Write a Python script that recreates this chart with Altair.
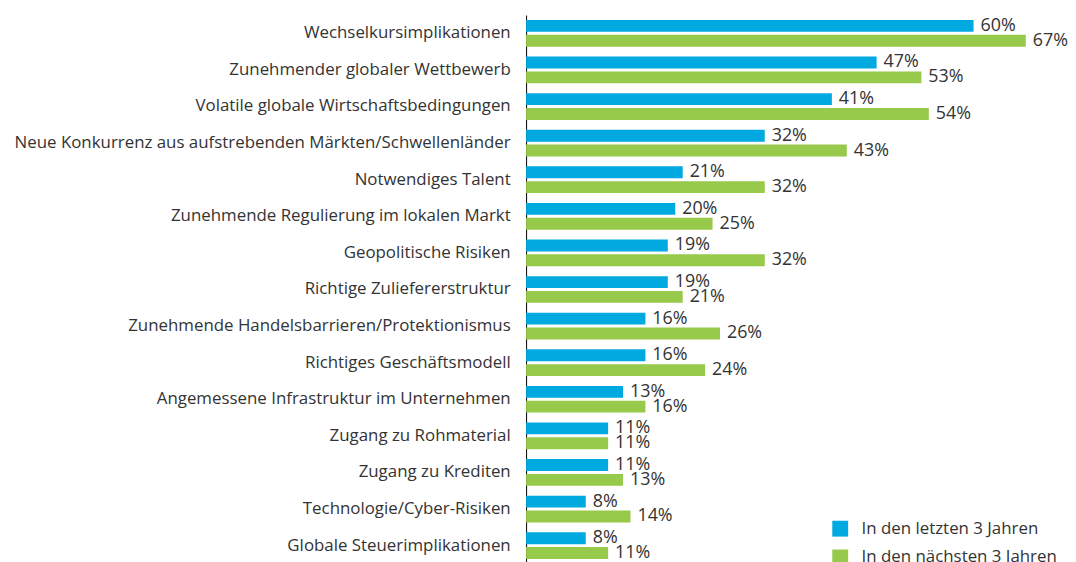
import altair as alt
import pandas as pd

categories = [
    "Wechselkursimplikationen",
    "Zunehmender globaler Wettbewerb",
    "Volatile globale Wirtschaftsbedingungen",
    "Neue Konkurrenz aus aufstrebenden Märkten/Schwellenländer",
    "Notwendiges Talent",
    "Zunehmende Regulierung im lokalen Markt",
    "Geopolitische Risiken",
    "Richtige Zuliefererstruktur",
    "Zunehmende Handelsbarrieren/Protektionismus",
    "Richtiges Geschäftsmodell",
    "Angemessene Infrastruktur im Unternehmen",
    "Zugang zu Rohmaterial",
    "Zugang zu Krediten",
    "Technologie/Cyber-Risiken",
    "Globale Steuerimplikationen",
]
series_names = ["In den letzten 3 Jahren", "In den nächsten 3 Jahren"]
past_values = [60, 47, 41, 32, 21, 20, 19, 19, 16, 16, 13, 11, 11, 8, 8]
next_values = [67, 53, 54, 43, 32, 25, 32, 21, 26, 24, 16, 11, 13, 14, 11]
colors = ["#00A9E0", "#97C94A"]

rows = []
for c, p, n in zip(categories, past_values, next_values):
    rows.append({"cat": c, "series": series_names[0], "value": p})
    rows.append({"cat": c, "series": series_names[1], "value": n})
df = pd.DataFrame(rows)

FONT = "Open Sans"
TXT = "#333333"

base = alt.Chart(df).encode(
    y=alt.Y(
        "cat:N",
        sort=categories,
        scale=alt.Scale(paddingInner=0.27, paddingOuter=0.135),
        axis=alt.Axis(
            title=None,
            ticks=False,
            domainColor="#000000",
            domainWidth=1,
            labelFontSize=17,
            labelFont=FONT,
            labelColor=TXT,
            labelPadding=16,
            labelLimit=700,
        ),
    ),
    yOffset=alt.YOffset(
        "series:N",
        sort=series_names,
        scale=alt.Scale(paddingInner=0.2, paddingOuter=0),
    ),
    x=alt.X("value:Q", scale=alt.Scale(domain=[0, 70], nice=False), axis=None),
)

bars = base.mark_bar().encode(
    color=alt.Color(
        "series:N",
        sort=series_names,
        scale=alt.Scale(domain=series_names, range=colors),
        legend=alt.Legend(
            title=None,
            orient="none",
            legendX=308,
            legendY=509,
            symbolType="square",
            symbolSize=256,
            symbolStrokeWidth=0,
            labelFontSize=17,
            labelFont=FONT,
            labelColor=TXT,
            labelOffset=13,
            labelLimit=400,
            rowPadding=11,
        ),
    )
)

labels = base.transform_calculate(label="datum.value + '%'").mark_text(
    align="left", baseline="middle", dx=7, fontSize=18, font=FONT, color=TXT
).encode(text="label:N")

chart = (
    alt.layer(bars, labels)
    .properties(
        width=526,
        height=553,
        autosize=alt.AutoSizeParams(type="none"),
        padding={"left": 522, "top": 5, "right": 20, "bottom": 0},
    )
    .configure_view(stroke=None)
)

chart.save("out.html", embed_options={"renderer": "svg", "actions": False})
